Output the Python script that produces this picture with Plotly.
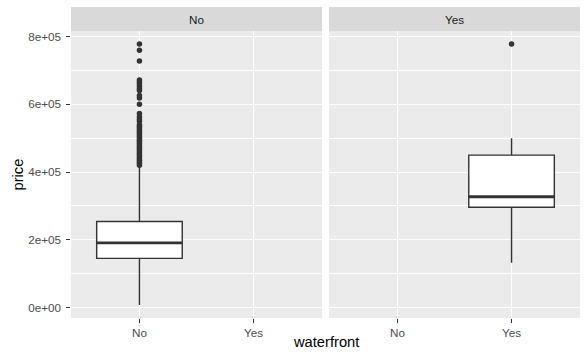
import plotly.graph_objects as go

# ---- data ----
facets = ["No", "Yes"]
categories = ["No", "Yes"]
# box stats per facet (facet "No" -> category "No", facet "Yes" -> category "Yes")
q1 = [145000, 296000]
median = [191000, 327000]
q3 = [254000, 450000]
lower_whisker = [7500, 132000]
upper_whisker = [418000, 500000]
outliers_no = [778000, 760000, 728000, 672000, 666000, 660000, 653000, 646000, 641000,
               626000, 619000, 600000, 573000, 563000, 557000, 550000, 540000, 535000,
               530000, 525000, 520000, 515000, 510000, 505000, 500000, 494000, 490000,
               485000, 480000, 475000, 470000, 465000, 460000, 455000, 450000, 445000,
               440000, 435000, 430000, 425000, 420000]
outliers_yes = [778000]
y_ticks = [0, 200000, 400000, 600000, 800000]
y_ticklabels = ["0e+00", "2e+05", "4e+05", "6e+05", "8e+05"]
y_minor = [100000, 300000, 500000, 700000]

W, H = 588, 362
font_family = "Liberation Sans, Arial, sans-serif"
box_w = 0.75
dark = "#333333"

fig = go.Figure()
outliers = [outliers_no, outliers_yes]
for i, f in enumerate(facets):
    xa = "x" if i == 0 else "x2"
    ya = "y" if i == 0 else "y2"
    cx = categories.index(f)
    fig.add_trace(go.Box(
        x=[cx], q1=[q1[i]], median=[median[i]], q3=[q3[i]],
        lowerfence=[lower_whisker[i]], upperfence=[upper_whisker[i]],
        boxpoints=False, width=box_w, whiskerwidth=0,
        fillcolor="white", line=dict(color=dark, width=1.4),
        xaxis=xa, yaxis=ya, showlegend=False, hoverinfo="skip"))
    fig.add_trace(go.Scatter(
        x=[cx - box_w / 2, cx + box_w / 2], y=[median[i], median[i]],
        mode="lines", line=dict(color=dark, width=2.8),
        xaxis=xa, yaxis=ya, showlegend=False, hoverinfo="skip"))
    fig.add_trace(go.Scatter(
        x=[cx] * len(outliers[i]), y=outliers[i], mode="markers",
        marker=dict(color=dark, size=5.5, line=dict(width=0)),
        xaxis=xa, yaxis=ya, showlegend=False, hoverinfo="skip"))

allv = lower_whisker + upper_whisker + outliers_no + outliers_yes
lo, hi = min(allv), max(allv)
span = hi - lo
yr = [lo - 0.05 * span, hi + 0.05 * span]

px = lambda v: v / W
py = lambda v: 1 - v / H
x1d = [px(71), px(322)]
x2d = [px(329), px(580)]
yd = [py(318), py(31)]

axis_common = dict(
    showgrid=True, gridcolor="white", gridwidth=1.4, zeroline=False,
    ticks="outside", ticklen=3.7, tickwidth=1.1, tickcolor=dark,
    tickfont=dict(size=11.7, color="#4D4D4D", family=font_family),
    showline=False, fixedrange=True)

xcommon = dict(axis_common, range=[-0.6, 1.6], tickmode="array",
               tickvals=list(range(len(categories))), ticktext=categories)
ycommon = dict(axis_common, range=yr, tickmode="array", tickvals=y_ticks,
               ticktext=y_ticklabels, ticklabelstandoff=3,
               minor=dict(tickvals=y_minor, showgrid=True, gridcolor="white",
                          gridwidth=0.7, ticks=""))

fig.update_layout(
    width=W, height=H, margin=dict(l=0, r=0, t=0, b=0),
    paper_bgcolor="white", plot_bgcolor="#EBEBEB",
    font=dict(family=font_family),
    xaxis=dict(xcommon, domain=x1d, anchor="y"),
    xaxis2=dict(xcommon, domain=x2d, anchor="y2"),
    yaxis=dict(ycommon, domain=yd, anchor="x"),
    yaxis2=dict(ycommon, domain=yd, anchor="x2", matches="y", showticklabels=False,
                ticks=""),
)

shapes = []
annotations = []
for i, f in enumerate(facets):
    xr = "x domain" if i == 0 else "x2 domain"
    shapes.append(dict(type="rect", xref=xr, yref="paper", x0=0, x1=1,
                       y0=py(31), y1=py(7), fillcolor="#D9D9D9", line=dict(width=0),
                       layer="below"))
    annotations.append(dict(text=f, xref=xr, yref="paper", x=0.5, y=(py(31) + py(7)) / 2,
                            showarrow=False, xanchor="center", yanchor="middle",
                            font=dict(size=11.7, color="#1A1A1A", family=font_family)))

annotations.append(dict(text="price", xref="paper", yref="paper", x=px(17),
                        y=(yd[0] + yd[1]) / 2, textangle=-90, showarrow=False,
                        xanchor="center", yanchor="middle",
                        font=dict(size=14.7, color="black", family=font_family)))
annotations.append(dict(text="waterfront", xref="paper", yref="paper",
                        x=(x1d[0] + x2d[1]) / 2, y=py(342), showarrow=False,
                        xanchor="center", yanchor="middle",
                        font=dict(size=14.7, color="black", family=font_family)))
fig.update_layout(shapes=shapes, annotations=annotations)

fig.write_html("out.html", config={"displayModeBar": False},
               post_script="document.body.style.margin='0';document.body.style.overflow='hidden';")
